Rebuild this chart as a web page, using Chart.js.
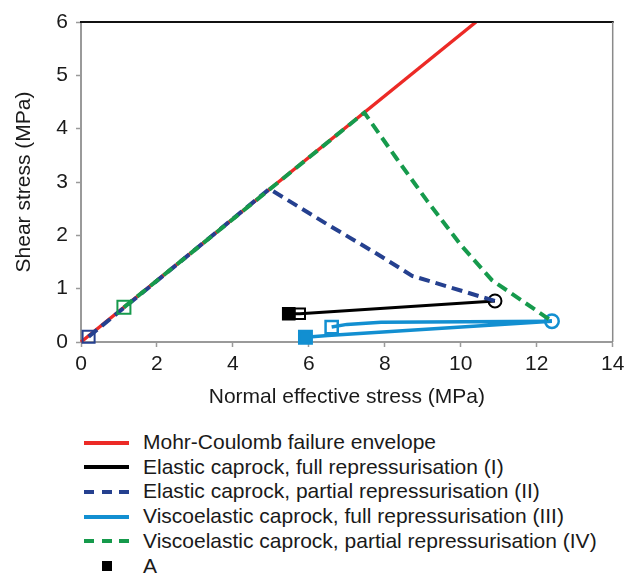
<!DOCTYPE html>
<html>
<head>
<meta charset="utf-8">
<script src="https://cdn.jsdelivr.net/npm/chart.js@4.4.0/dist/chart.umd.min.js"></script>
<style>
  html, body { margin: 0; padding: 0; background: #fff; }
  body { width: 624px; height: 574px; position: relative; overflow: hidden; font-family: "Liberation Sans", Arial, sans-serif; }
  #wrap { position: absolute; left: 0; top: 0; width: 624px; height: 420px; }
  #legend { position: absolute; left: 0; top: 430px; width: 624px; }
  .row { position: absolute; left: 0; height: 24.7px; line-height: 24.7px; font-size: 21px; color: #1a1a1a; white-space: nowrap; }
  .sw { position: absolute; left: 84px; width: 45px; height: 4px; top: 10.5px; }
  .txt { position: absolute; left: 143px; top: 0; }
  .mk { position: absolute; left: 102px; top: 7.5px; width: 10px; height: 10px; background: #000; }
</style>
</head>
<body>
<div id="wrap"><canvas id="c" width="624" height="420"></canvas></div>
<div id="legend"></div>
<script>
// ---- data ----
const xTickValues = [0, 2, 4, 6, 8, 10, 12, 14];
const yTickValues = [0, 1, 2, 3, 4, 5, 6];

const envelopeX = [0, 10.4];
const envelopeY = [0, 6];

const elasticFullX = [5.47, 5.76, 10.9];
const elasticFullY = [0.53, 0.53, 0.77];

const elasticPartialX = [0.2, 4.96, 6.5, 7.8, 8.72, 10.9];
const elasticPartialY = [0.1, 2.87, 2.2, 1.65, 1.24, 0.77];

const viscoFullX = [5.91, 6.5, 12.4, 7.9, 7.0, 6.6];
const viscoFullY = [0.09, 0.12, 0.39, 0.37, 0.33, 0.28];

const viscoPartialX = [1.13, 7.46, 8.3, 9.1, 10.0, 10.82, 12.4];
const viscoPartialY = [0.65, 4.3, 3.45, 2.66, 1.82, 1.16, 0.39];

const seriesLabels = [
  "Mohr-Coulomb failure envelope",
  "Elastic caprock, full repressurisation (I)",
  "Elastic caprock, partial repressurisation (II)",
  "Viscoelastic caprock, full repressurisation (III)",
  "Viscoelastic caprock, partial repressurisation (IV)",
  "A"
];

// ---- styling ----
const RED = "#ec2a26", BLACK = "#000000", DBLUE = "#25408f", LBLUE = "#128fd1", GREEN = "#169a4c";
const FONT = "'Liberation Sans', Arial, sans-serif";
const AXIS_GRAY = "#9a9a9a";

function pts(xs, ys) { return xs.map((x, i) => ({ x: x, y: ys[i] })); }

const datasets = [
  {
    label: seriesLabels[0], data: pts(envelopeX, envelopeY),
    borderColor: RED, borderWidth: 3.5, pointRadius: 0, order: 5
  },
  {
    label: seriesLabels[1], data: pts(elasticFullX, elasticFullY),
    borderColor: BLACK, borderWidth: 3, order: 3,
    pointStyle: ["rect", "rect", "circle"],
    pointRadius: [8.2, 7.4, 6.5],
    pointBorderWidth: [2, 2, 2],
    pointBorderColor: BLACK,
    pointBackgroundColor: [BLACK, "rgba(0,0,0,0)", "rgba(0,0,0,0)"]
  },
  {
    label: seriesLabels[2], data: pts(elasticPartialX, elasticPartialY),
    borderColor: DBLUE, borderWidth: 4, borderDash: [11, 6], order: 2,
    pointStyle: "rect",
    pointRadius: [8.5, 0, 0, 0, 0, 0],
    pointBorderWidth: 2, pointBorderColor: DBLUE, pointBackgroundColor: "rgba(0,0,0,0)"
  },
  {
    label: seriesLabels[3], data: pts(viscoFullX, viscoFullY),
    borderColor: LBLUE, borderWidth: 3.5, order: 4,
    pointStyle: ["rect", "rect", "circle", "rect", "rect", "rect"],
    pointRadius: [8.8, 0, 6.8, 0, 0, 8.6],
    pointBorderWidth: 2.5, pointBorderColor: LBLUE,
    pointBackgroundColor: [LBLUE, "rgba(0,0,0,0)", "rgba(0,0,0,0)", "rgba(0,0,0,0)", "rgba(0,0,0,0)", "rgba(0,0,0,0)"]
  },
  {
    label: seriesLabels[4], data: pts(viscoPartialX, viscoPartialY),
    borderColor: GREEN, borderWidth: 4, borderDash: [11, 6], order: 1,
    pointStyle: "rect",
    pointRadius: [9.2, 0, 0, 0, 0, 0, 0],
    pointBorderWidth: 2, pointBorderColor: GREEN, pointBackgroundColor: "rgba(0,0,0,0)"
  }
];
datasets.forEach(d => { d.showLine = true; d.fill = false; d.tension = 0; d.clip = false; d.pointHoverRadius = 0; });

const framePlugin = {
  id: "frame",
  afterDraw(chart) {
    const { ctx, chartArea: a } = chart;
    ctx.save();
    ctx.strokeStyle = "#111"; ctx.lineWidth = 2;
    ctx.beginPath(); ctx.moveTo(a.left - 1, a.top); ctx.lineTo(a.right + 1, a.top); ctx.stroke();
    ctx.strokeStyle = "#8a8a8a"; ctx.lineWidth = 1.5;
    ctx.beginPath(); ctx.moveTo(a.right, a.top); ctx.lineTo(a.right, a.bottom); ctx.stroke();
    ctx.restore();
  }
};

new Chart(document.getElementById("c"), {
  type: "scatter",
  data: { datasets: datasets },
  plugins: [framePlugin],
  options: {
    responsive: false, animation: false, events: [],
    layout: { padding: { top: 22, right: 11, left: 0, bottom: 0 } },
    plugins: { legend: { display: false }, tooltip: { enabled: false } },
    scales: {
      x: {
        type: "linear", min: 0, max: 14,
        afterBuildTicks: s => { s.ticks = xTickValues.map(v => ({ value: v })); },
        afterFit: s => { s.height = 78; s.paddingRight = 0; s.paddingLeft = 0; },
        ticks: { font: { family: FONT, size: 21 }, color: "#1a1a1a", padding: 5 },
        grid: { display: true, drawOnChartArea: false, drawTicks: true, tickLength: 5, tickColor: AXIS_GRAY, tickWidth: 1.5 },
        border: { display: true, color: AXIS_GRAY, width: 2 },
        title: { display: true, text: "Normal effective stress (MPa)", font: { family: FONT, size: 21 }, color: "#1a1a1a", padding: { top: 0, bottom: 10 } }
      },
      y: {
        type: "linear", min: 0, max: 6,
        afterBuildTicks: s => { s.ticks = yTickValues.map(v => ({ value: v })); },
        afterFit: s => { s.width = 81; },
        ticks: { font: { family: FONT, size: 21 }, color: "#1a1a1a", padding: 8 },
        grid: { display: true, drawOnChartArea: false, drawTicks: true, tickLength: 5, tickColor: AXIS_GRAY, tickWidth: 1.5 },
        border: { display: true, color: AXIS_GRAY, width: 2 },
        title: { display: true, text: "Shear stress (MPa)", font: { family: FONT, size: 21 }, color: "#1a1a1a", padding: { top: 12, bottom: 0 } }
      }
    }
  }
});

// ---- HTML legend built from the series ----
const legendStyles = [
  { color: RED, dashed: false },
  { color: BLACK, dashed: false },
  { color: DBLUE, dashed: true },
  { color: LBLUE, dashed: false },
  { color: GREEN, dashed: true },
  { color: BLACK, marker: true }
];
const legend = document.getElementById("legend");
seriesLabels.forEach((lab, i) => {
  const row = document.createElement("div");
  row.className = "row";
  row.style.top = (i * 24.7) + "px";
  const st = legendStyles[i];
  const sw = document.createElement("div");
  if (st.marker) {
    sw.className = "mk";
  } else {
    sw.className = "sw";
    sw.style.background = st.dashed
      ? `repeating-linear-gradient(90deg, ${st.color} 0 10px, transparent 10px 17.5px)`
      : st.color;
  }
  row.appendChild(sw);
  const t = document.createElement("span");
  t.className = "txt";
  t.textContent = lab;
  row.appendChild(t);
  legend.appendChild(row);
});
</script>
</body>
</html>
